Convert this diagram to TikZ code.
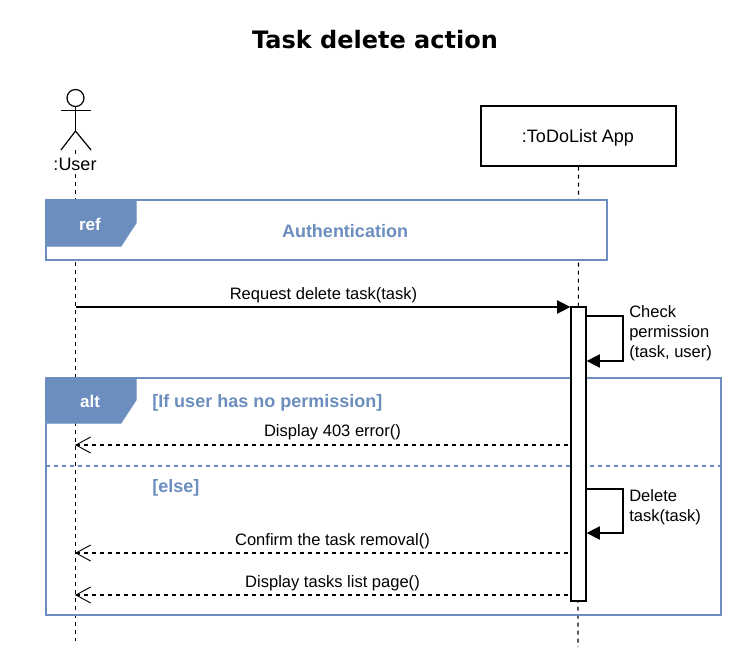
\documentclass[tikz,border=0pt]{standalone}
\usepackage{fontspec}
\setmainfont{Liberation Sans}
\newfontfamily\titlefont{DejaVu Sans}
\usetikzlibrary{arrows.meta,calc,positioning}
\definecolor{framecol}{HTML}{6C8EBF}
\tikzset{
    x=0.75pt,y=-0.75pt,
    >={Triangle[length=10pt,width=10pt]},
    every node/.style={font=\fontsize{12.4}{14.9}\selectfont,inner sep=0pt},
    lifeline/.style={black,line width=0.9pt,dash pattern=on 3pt off 3pt},
    frame/.style={draw=framecol,line width=0.9pt},
    tag/.style={fill=framecol,draw=framecol,line width=0.75pt},
    tagtext/.style={text=white,font=\fontsize{12.75}{15}\selectfont\bfseries},
    guard/.style={text=framecol,font=\fontsize{13.5}{16}\selectfont\bfseries},
    actorname/.style={font=\fontsize{13.5}{16}\selectfont},
    call/.style={->,line width=0.9pt},
    reply/.style={{Straight Barb[length=11pt,width=12pt,line width=0.7pt]}-,line width=0.9pt,dash pattern=on 3pt off 3pt},
}
\begin{document}
\begin{tikzpicture}
    \useasboundingbox (0,0) rectangle (750,660);

    \node[font=\titlefont\fontsize{18}{22}\selectfont\bfseries] (title) at (375,39.5) {Task delete action};

    % lifelines first, everything else goes over them
    \node[draw=black,line width=0.9pt,minimum width=146.25pt,minimum height=45pt,actorname] (app) at (578.5,136) {};
    \node[actorname] (appname) at (578,138) {:ToDoList App};
    \coordinate (userfoot) at (75.5,150);
    \coordinate (userend) at (75.5,641);
    \coordinate (append) at (578,647);
    \draw[lifeline] (userfoot) -- (userend);
    \draw[lifeline] (app.south) -- (append);

    % actor
    \node[circle,draw=black,line width=0.9pt,minimum size=12.75pt,fill=white] (head) at (75.5,98) {};
    \coordinate (hip) at (75.5,131);
    \coordinate (armleft) at (61,110.5);
    \coordinate (armright) at (91,110.5);
    \coordinate (legleft) at (61,150);
    \coordinate (legright) at (91,150);
    \draw[line width=0.9pt] (head.south) -- (hip);
    \draw[line width=0.9pt] (armleft) -- (armright);
    \draw[line width=0.9pt] (legleft) -- (hip) -- (legright);
    \node[fill=white,inner ysep=1pt,actorname] (user) at (75,164.5) {:User};

    % ref frame
    \node[frame,fill=white,minimum width=420.75pt,minimum height=45pt] (ref) at (326.5,230) {};
    \fill[tag] (46,200) -- (136,200) -- (136,223) -- (121,246) -- (46,246) -- cycle;
    \node[tagtext] (reflabel) at (90,224.5) {ref};
    \node[guard] (auth) at (345,231.5) {Authentication};

    % alt frame
    \node[frame,minimum width=506.25pt,minimum height=177.75pt] (alt) at (383.5,496.5) {};
    \fill[tag] (46,378) -- (136,378) -- (136,400) -- (121,423) -- (46,423) -- cycle;
    \node[tagtext] (altlabel) at (90,401.5) {alt};
    \coordinate (splitleft) at (46,466);
    \coordinate (splitright) at (721,466);
    \draw[draw=framecol,line width=0.9pt,dash pattern=on 3pt off 3pt] (splitleft) -- (splitright);
    \node[guard,anchor=west] (noperm) at (152,403) {[If user has no permission]};
    \node[guard,anchor=west] (else) at (152,488) {[else]};

    % activation
    \node[draw=black,fill=white,line width=0.9pt,minimum width=11.25pt,minimum height=220.5pt] (act) at (578.5,454) {};

    % messages
    \coordinate (u1) at (75.5,307);
    \coordinate (u2) at (75,445);
    \coordinate (u3) at (75,553);
    \coordinate (u4) at (75,595);
    \draw[call] (u1) -- (u1 -| act.west);
    \draw[reply] (u2) -- (u2 -| act.west);
    \draw[reply] (u3) -- (u3 -| act.west);
    \draw[reply] (u4) -- (u4 -| act.west);
    \node (msgrequest) at (323.5,295) {Request delete task(task)};
    \node (msgerror) at (332.5,432.5) {Display 403 error()};
    \node (msgconfirm) at (332.5,541.5) {Confirm the task removal()};
    \node (msglist) at (332.5,583.5) {Display tasks list page()};

    % self calls
    \coordinate (s1a) at (623,316);
    \coordinate (s1b) at (623,361);
    \coordinate (s2a) at (623,489);
    \coordinate (s2b) at (623,533);
    \draw[call] (s1a -| act.east) -- (s1a) -- (s1b) -- (s1b -| act.east);
    \draw[call] (s2a -| act.east) -- (s2a) -- (s2b) -- (s2b -| act.east);
    \node[anchor=west,align=left] (check) at (629,333.5) {Check\\permission\\(task, user)};
    \node[anchor=west,align=left] (delete) at (629,507) {Delete\\task(task)};
\end{tikzpicture}
\end{document}
